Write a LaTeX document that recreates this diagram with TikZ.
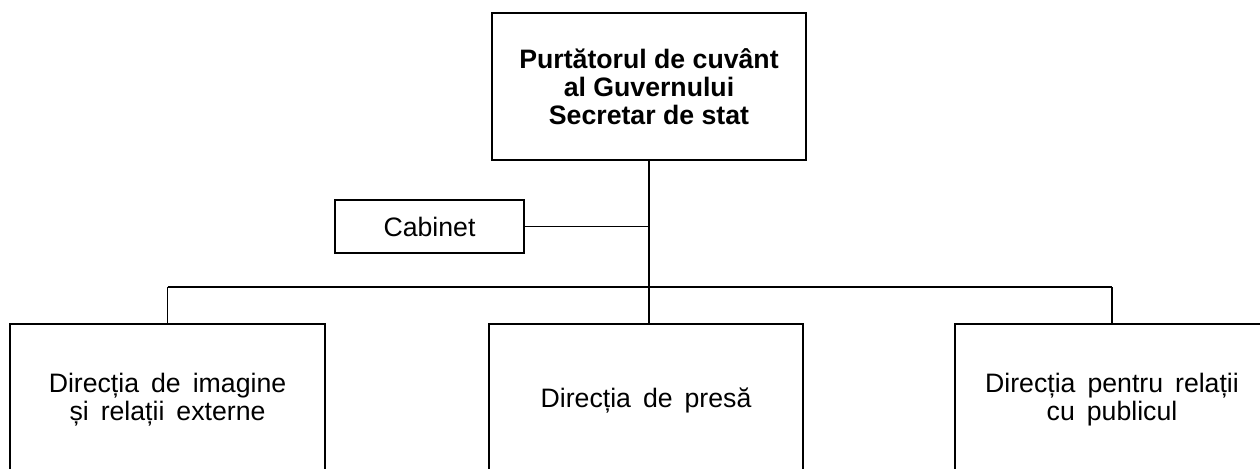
\documentclass[tikz,border=0pt]{standalone}
\usepackage{fontspec}
\setmainfont{Liberation Sans}
\newcommand{\widegaps}{\spaceskip 9pt plus 2pt\relax}
\begin{document}
\begin{tikzpicture}[x=0.75pt, y=-0.75pt, line width=1.3pt]
% Styles for the boxes
\tikzset{
  headbox/.style={draw, rectangle, align=center, minimum width=236pt, minimum height=110pt,
    font=\fontsize{20}{21}\selectfont\bfseries},
  cabbox/.style={draw, rectangle, align=center, minimum width=142pt, minimum height=40pt,
    font=\fontsize{20}{21}\selectfont},
  dirbox/.style={draw, rectangle, align=center, minimum width=236pt, minimum height=114pt,
    font=\fontsize{20}{21}\selectfont\widegaps}
}
\useasboundingbox (0, 0) rectangle (1260, 468);

% Top box
\node[headbox] (sef) at (649, 86.5) {Purtătorul de cuvânt\\al Guvernului\\Secretar de stat};
% Cabinet
\node[cabbox] (cabinet) at (429.5, 226.5) {Cabinet};
% Directions
\node[dirbox] (imagine) at (167.5, 400) {Direcția de imagine\\și relații externe};
\node[dirbox] (presa) at (646, 400) {Direcția de presă};
\node[dirbox] (relatii) at (1112, 400) {Direcția pentru relații\\cu publicul};

% Connectors
\coordinate (bus) at (648, 287);
\draw (sef.south) -- (sef.south |- presa.north);
\draw (cabinet.east) -- (cabinet.east -| sef.south);
\draw (imagine.north |- bus) -- (relatii.north |- bus);
\draw (imagine.north |- bus) -- (imagine.north);
\draw (relatii.north |- bus) -- (relatii.north);
\end{tikzpicture}
\end{document}
